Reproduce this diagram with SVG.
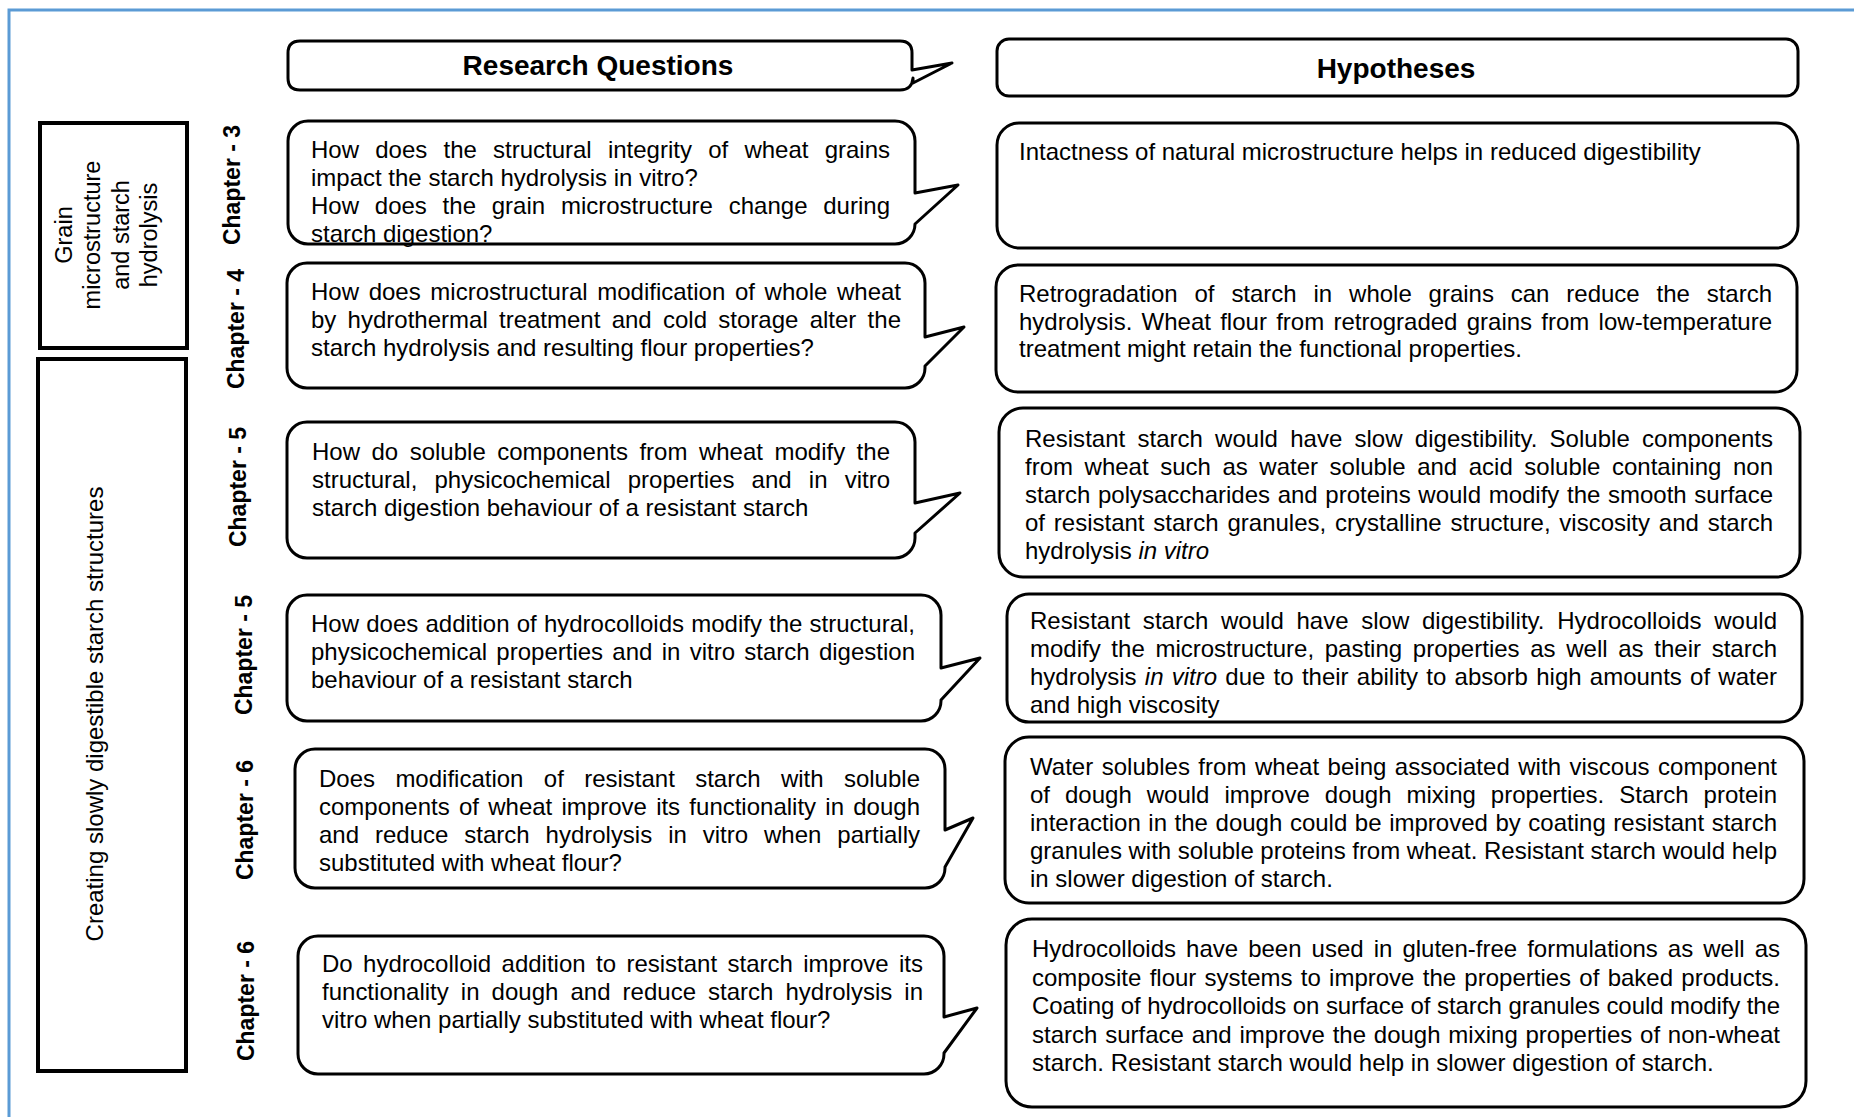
<svg xmlns="http://www.w3.org/2000/svg" width="1854" height="1117" viewBox="0 0 1854 1117">
<style>
.bg{fill:#fff}
.frame{fill:none;stroke:#5B9BD5;stroke-width:3}
.box{fill:#fff;stroke:#000;stroke-width:3;stroke-linejoin:round}
.lbl{fill:#fff;stroke:#000;stroke-width:4}
.t{font-family:"Liberation Sans",Arial,sans-serif;font-size:24px;fill:#000}
.hd{font-weight:bold;font-size:28px;text-anchor:middle}
.ch{font-weight:bold;font-size:23px;text-anchor:middle}
.side{font-size:23.5px;text-anchor:middle}
.i{font-style:italic}
</style>
<rect class="bg" x="0" y="0" width="1854" height="1117"/>
<path class="frame" d="M9,1117 V10 H1854"/>

<g id="side-grain">
<rect class="lbl" x="40" y="123" width="147" height="225"/>
<text class="t side" transform="translate(72,235) rotate(-90)">Grain</text>
<text class="t side" transform="translate(100,235) rotate(-90)">microstructure</text>
<text class="t side" transform="translate(129,235) rotate(-90)">and starch</text>
<text class="t side" transform="translate(157,235) rotate(-90)">hydrolysis</text>
</g>
<g id="side-creating">
<rect class="lbl" x="38" y="359" width="148" height="712"/>
<text class="t side" style="font-size:24px" transform="translate(103,714) rotate(-90)">Creating slowly digestible starch structures</text>
</g>

<g id="chapters">
<text class="t ch" transform="translate(240,185) rotate(-90)">Chapter - 3</text>
<text class="t ch" transform="translate(244,329) rotate(-90)">Chapter - 4</text>
<text class="t ch" transform="translate(246,487) rotate(-90)">Chapter - 5</text>
<text class="t ch" transform="translate(252,655) rotate(-90)">Chapter - 5</text>
<text class="t ch" transform="translate(253,820) rotate(-90)">Chapter - 6</text>
<text class="t ch" transform="translate(254,1001) rotate(-90)">Chapter - 6</text>
</g>

<g id="header-rq">
<path class="box" d="M300,41 H900 Q912,41 912,53 V70 L952,63 L913,83 V78 Q912,90 900,90 H300 Q288,90 288,78 V53 Q288,41 300,41 Z"/>
<text class="t hd" x="598" y="75">Research Questions</text>
</g>
<g id="header-hyp">
<rect class="box" x="997" y="39" width="801" height="57" rx="12"/>
<text class="t hd" x="1396" y="78">Hypotheses</text>
</g>

<g id="q1">
<path class="box" d="M308,121 H895 A20,20 0 0 1 915,141 V193 L958,185 L915,224 A20,20 0 0 1 895,244 H308 A20,20 0 0 1 288,224 V141 A20,20 0 0 1 308,121 Z"/>
<text class="t" x="311" y="158" style="word-spacing:9.6px" textLength="579" lengthAdjust="spacing">How does the structural integrity of wheat grains</text>
<text class="t" x="311" y="186">impact the starch hydrolysis in vitro?</text>
<text class="t" x="311" y="214" style="word-spacing:9.1px" textLength="579" lengthAdjust="spacing">How does the grain microstructure change during</text>
<text class="t" x="311" y="242">starch digestion?</text>
</g>
<g id="q2">
<path class="box" d="M307,263 H905 A20,20 0 0 1 925,283 V337 L964,327 L925,366 V368 A20,20 0 0 1 905,388 H307 A20,20 0 0 1 287,368 V283 A20,20 0 0 1 307,263 Z"/>
<text class="t" x="311" y="300" style="word-spacing:3px" textLength="590" lengthAdjust="spacing">How does microstructural modification of whole wheat</text>
<text class="t" x="311" y="328" style="word-spacing:4.6px" textLength="590" lengthAdjust="spacing">by hydrothermal treatment and cold storage alter the</text>
<text class="t" x="311" y="356">starch hydrolysis and resulting flour properties?</text>
</g>
<g id="q3">
<path class="box" d="M307,422 H895 A20,20 0 0 1 915,442 V503 L960,493 L915,533 V538 A20,20 0 0 1 895,558 H307 A20,20 0 0 1 287,538 V442 A20,20 0 0 1 307,422 Z"/>
<text class="t" x="312" y="460" style="word-spacing:4.8px" textLength="578" lengthAdjust="spacing">How do soluble components from wheat modify the</text>
<text class="t" x="312" y="488" style="word-spacing:10.5px" textLength="578" lengthAdjust="spacing">structural, physicochemical properties and in vitro</text>
<text class="t" x="312" y="516">starch digestion behaviour of a resistant starch</text>
</g>
<g id="q4">
<path class="box" d="M307,595 H921 A20,20 0 0 1 941,615 V668 L980,658 L941,700 V701 A20,20 0 0 1 921,721 H307 A20,20 0 0 1 287,701 V615 A20,20 0 0 1 307,595 Z"/>
<text class="t" x="311" y="632" style="word-spacing:0.5px" textLength="604" lengthAdjust="spacing">How does addition of hydrocolloids modify the structural,</text>
<text class="t" x="311" y="660" style="word-spacing:2.6px" textLength="604" lengthAdjust="spacing">physicochemical properties and in vitro starch digestion</text>
<text class="t" x="311" y="688">behaviour of a resistant starch</text>
</g>
<g id="q5">
<path class="box" d="M315,749 H925 A20,20 0 0 1 945,769 V830 L973,818 L945,867 V868 A20,20 0 0 1 925,888 H315 A20,20 0 0 1 295,868 V769 A20,20 0 0 1 315,749 Z"/>
<text class="t" x="319" y="787" style="word-spacing:13.7px" textLength="601" lengthAdjust="spacing">Does modification of resistant starch with soluble</text>
<text class="t" x="319" y="815" style="word-spacing:2.6px" textLength="601" lengthAdjust="spacing">components of wheat improve its functionality in dough</text>
<text class="t" x="319" y="843" style="word-spacing:9.3px" textLength="601" lengthAdjust="spacing">and reduce starch hydrolysis in vitro when partially</text>
<text class="t" x="319" y="871">substituted with wheat flour?</text>
</g>
<g id="q6">
<path class="box" d="M318,936 H924 A20,20 0 0 1 944,956 V1017 L977,1008 L944,1053 V1054 A20,20 0 0 1 924,1074 H318 A20,20 0 0 1 298,1054 V956 A20,20 0 0 1 318,936 Z"/>
<text class="t" x="322" y="972" style="word-spacing:3.7px" textLength="601" lengthAdjust="spacing">Do hydrocolloid addition to resistant starch improve its</text>
<text class="t" x="322" y="1000" style="word-spacing:5.4px" textLength="601" lengthAdjust="spacing">functionality in dough and reduce starch hydrolysis in</text>
<text class="t" x="322" y="1028">vitro when partially substituted with wheat flour?</text>
</g>

<g id="h1">
<rect class="box" x="997" y="123" width="801" height="125" rx="22"/>
<text class="t" x="1019" y="160">Intactness of natural microstructure helps in reduced digestibility</text>
</g>
<g id="h2">
<rect class="box" x="996" y="265" width="801" height="127" rx="22"/>
<text class="t" x="1019" y="302" style="word-spacing:10.2px" textLength="753" lengthAdjust="spacing">Retrogradation of starch in whole grains can reduce the starch</text>
<text class="t" x="1019" y="330" style="word-spacing:2.6px" textLength="753" lengthAdjust="spacing">hydrolysis. Wheat flour from retrograded grains from low-temperature</text>
<text class="t" x="1019" y="357">treatment might retain the functional properties.</text>
</g>
<g id="h3">
<rect class="box" x="999" y="408" width="801" height="169" rx="24"/>
<text class="t" x="1025" y="447" style="word-spacing:5.5px" textLength="748" lengthAdjust="spacing">Resistant starch would have slow digestibility. Soluble components</text>
<text class="t" x="1025" y="475" style="word-spacing:4.9px" textLength="748" lengthAdjust="spacing">from wheat such as water soluble and acid soluble containing non</text>
<text class="t" x="1025" y="503" style="word-spacing:1px" textLength="748" lengthAdjust="spacing">starch polysaccharides and proteins would modify the smooth surface</text>
<text class="t" x="1025" y="531" style="word-spacing:2.1px" textLength="748" lengthAdjust="spacing">of resistant starch granules, crystalline structure, viscosity and starch</text>
<text class="t" x="1025" y="559">hydrolysis <tspan class="i">in vitro</tspan></text>
</g>
<g id="h4">
<rect class="box" x="1007" y="594" width="795" height="128" rx="22"/>
<text class="t" x="1030" y="629" style="word-spacing:5.9px" textLength="747" lengthAdjust="spacing">Resistant starch would have slow digestibility. Hydrocolloids would</text>
<text class="t" x="1030" y="657" style="word-spacing:4px" textLength="747" lengthAdjust="spacing">modify the microstructure, pasting properties as well as their starch</text>
<text class="t" x="1030" y="685" style="word-spacing:1.6px" textLength="747" lengthAdjust="spacing">hydrolysis <tspan class="i">in vitro</tspan> due to their ability to absorb high amounts of water</text>
<text class="t" x="1030" y="713">and high viscosity</text>
</g>
<g id="h5">
<rect class="box" x="1005" y="737" width="799" height="166" rx="24"/>
<text class="t" x="1030" y="775" style="word-spacing:1.8px" textLength="747" lengthAdjust="spacing">Water solubles from wheat being associated with viscous component</text>
<text class="t" x="1030" y="803" style="word-spacing:8.3px" textLength="747" lengthAdjust="spacing">of dough would improve dough mixing properties. Starch protein</text>
<text class="t" x="1030" y="831" style="word-spacing:0.9px" textLength="747" lengthAdjust="spacing">interaction in the dough could be improved by coating resistant starch</text>
<text class="t" x="1030" y="859" textLength="747" lengthAdjust="spacing">granules with soluble proteins from wheat. Resistant starch would help</text>
<text class="t" x="1030" y="887">in slower digestion of starch.</text>
</g>
<g id="h6">
<rect class="box" x="1006" y="919" width="800" height="188" rx="26"/>
<text class="t" x="1032" y="957" style="word-spacing:3.4px" textLength="748" lengthAdjust="spacing">Hydrocolloids have been used in gluten-free formulations as well as</text>
<text class="t" x="1032" y="986" style="word-spacing:1.6px" textLength="748" lengthAdjust="spacing">composite flour systems to improve the properties of baked products.</text>
<text class="t" x="1032" y="1014" textLength="748" lengthAdjust="spacing">Coating of hydrocolloids on surface of starch granules could modify the</text>
<text class="t" x="1032" y="1043" style="word-spacing:1.1px" textLength="748" lengthAdjust="spacing">starch surface and improve the dough mixing properties of non-wheat</text>
<text class="t" x="1032" y="1071">starch. Resistant starch would help in slower digestion of starch.</text>
</g>

<g id="connectors"/>
</svg>
